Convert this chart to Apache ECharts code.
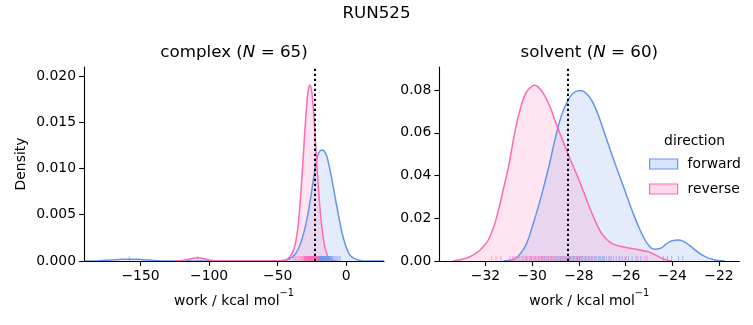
<!DOCTYPE html>
<html>
<head>
<meta charset="utf-8">
<script src="https://cdn.jsdelivr.net/npm/echarts@6/dist/echarts.min.js"></script>
<style>
  html, body { margin: 0; padding: 0; background: #fff; }
  #chart { width: 753px; height: 325px; }
</style>
</head>
<body>
<div id="chart"></div>
<script>
// Work distributions for RUN525: KDE curves (work, density) per phase and direction
const complexForwardDensity = [
  [-191, 0], [-186, 0.00001], [-180, 0.00004], [-174, 0.00009], [-168, 0.00014], [-163, 0.00018],
  [-158, 0.0002], [-153, 0.00018], [-148, 0.00014], [-142, 0.00009], [-137, 0.00004], [-132, 0.00001],
  [-127, 0], [-50, 0], [-46, 0.00005], [-42, 0.0002], [-38, 0.0006], [-35, 0.0013], [-32, 0.0025],
  [-29, 0.0043], [-26, 0.0068], [-24, 0.0088], [-22, 0.0106], [-20, 0.0117], [-17.5, 0.0120],
  [-15, 0.0116], [-13, 0.0106], [-11, 0.0092], [-9, 0.0076], [-7, 0.0060], [-5, 0.0044],
  [-3, 0.0030], [-1, 0.0019], [1, 0.0011], [3, 0.0006], [6, 0.00025], [10, 0.00006], [15, 0], [27.5, 0]
];
const complexReverseDensity = [
  [-125, 0], [-120, 0.00005], [-116, 0.00014], [-112, 0.00028], [-108.4, 0.00036], [-105, 0.00028],
  [-101, 0.00014], [-97, 0.00005], [-92, 0], [-50, 0], [-46, 0.00005], [-43, 0.0002], [-40, 0.0007],
  [-38, 0.0014], [-36, 0.0028], [-34, 0.0056], [-32, 0.0098], [-30, 0.0145], [-28.5, 0.0174],
  [-27.5, 0.0186], [-26.5, 0.0190], [-25.5, 0.0186], [-24.5, 0.0173], [-23.5, 0.0154], [-22, 0.0117],
  [-20.5, 0.0083], [-19, 0.0054], [-17.5, 0.0033], [-16, 0.0018], [-14, 0.0007], [-12, 0.00022],
  [-9, 0.00003], [-6, 0]
];
const solventForwardDensity = [
  [-31.25, 0], [-31.0, 0.0003], [-30.75, 0.0010], [-30.5, 0.0035], [-30.25, 0.0080], [-30.0, 0.0160],
  [-29.75, 0.0250], [-29.5, 0.0350], [-29.25, 0.0460], [-29.0, 0.0580], [-28.75, 0.0680],
  [-28.5, 0.0745], [-28.25, 0.0785], [-28.0, 0.0797], [-27.9, 0.0797], [-27.75, 0.0790],
  [-27.5, 0.0760], [-27.25, 0.0705], [-27.0, 0.0630], [-26.75, 0.0550], [-26.5, 0.0470],
  [-26.25, 0.0395], [-26.0, 0.0320], [-25.75, 0.0245], [-25.5, 0.0175], [-25.25, 0.0115],
  [-25.0, 0.0072], [-24.75, 0.0055], [-24.5, 0.0060], [-24.25, 0.0080], [-24.0, 0.0095],
  [-23.75, 0.0098], [-23.5, 0.0090], [-23.25, 0.0072], [-23.0, 0.0050], [-22.75, 0.0030],
  [-22.5, 0.0016], [-22.25, 0.0007], [-22.0, 0.0002], [-21.75, 0]
];
const solventReverseDensity = [
  [-33.4, 0], [-33.0, 0.0008], [-32.5, 0.0030], [-32.0, 0.0080], [-31.75, 0.0130], [-31.5, 0.0215],
  [-31.25, 0.0330], [-31.0, 0.0450], [-30.75, 0.0600], [-30.5, 0.0715], [-30.25, 0.0790],
  [-30.0, 0.0818], [-29.9, 0.0822], [-29.75, 0.0815], [-29.5, 0.0780], [-29.25, 0.0725],
  [-29.0, 0.0650], [-28.75, 0.0580], [-28.5, 0.0510], [-28.25, 0.0445], [-28.0, 0.0380],
  [-27.75, 0.0310], [-27.5, 0.0240], [-27.25, 0.0175], [-27.0, 0.0125], [-26.75, 0.0095],
  [-26.5, 0.0078], [-26.0, 0.0063], [-25.5, 0.0054], [-25.0, 0.0042], [-24.75, 0.0030],
  [-24.5, 0.0016], [-24.25, 0.0005], [-24.0, 0]
];

// Individual work values (rug marks)
const complexForwardWork = [
  -158.2, -30.5, -28.6, -27.2, -26.0, -25.0, -24.2, -23.5, -22.9, -22.4, -21.9, -21.4, -21.0,
  -20.6, -20.2, -19.9, -19.6, -19.3, -19.0, -18.7, -18.4, -18.1, -17.8, -17.5, -17.2, -16.9,
  -16.6, -16.3, -16.0, -15.7, -15.4, -15.1, -14.8, -14.5, -14.1, -13.7, -13.3, -12.9, -12.5,
  -12.0, -11.5, -11.0, -10.4, -9.8, -9.1, -8.3, -7.4, -6.4, -5.2, -4.4, -20.8, -19.5, -18.2,
  -17.0, -15.9, -14.9, -13.9, -12.7, -23.0, -21.7, -18.9, -16.7, -15.2, -13.0, -10.7
];
const complexReverseWork = [
  -108.4, -38.4, -37.2, -36.0, -34.8, -33.6, -32.8, -32.0, -31.4, -30.8, -30.3, -29.9, -29.5,
  -29.1, -28.8, -28.5, -28.2, -27.9, -27.6, -27.4, -27.2, -27.0, -26.8, -26.6, -26.4, -26.2,
  -26.0, -25.8, -25.6, -25.4, -25.2, -25.0, -24.8, -24.6, -24.4, -24.2, -24.0, -23.8, -23.6,
  -23.4, -23.2, -23.0, -22.8, -22.6, -22.3, -22.0, -21.6, -21.2, -20.6, -19.8, -26.9, -25.9,
  -24.9, -23.9, -27.7, -28.0, -26.5, -25.5, -24.5, -23.5, -29.3, -30.0, -22.5, -21.9, -20.2
];
const solventForwardWork = [
  -30.24, -30.05, -29.88, -29.72, -29.60, -29.48, -29.38, -29.28, -29.18, -29.10, -29.02, -28.94,
  -28.86, -28.79, -28.72, -28.65, -28.58, -28.51, -28.44, -28.37, -28.30, -28.24, -28.18, -28.12,
  -28.06, -28.00, -27.94, -27.88, -27.82, -27.75, -27.68, -27.61, -27.54, -27.47, -27.40, -27.32,
  -27.24, -27.16, -27.08, -27.00, -26.91, -26.82, -26.72, -26.62, -26.52, -26.40, -26.28, -26.15,
  -26.02, -25.88, -25.72, -25.55, -25.35, -24.38, -24.21, -24.03, -23.74, -23.55, -27.97, -28.40
];
const solventReverseWork = [
  -31.74, -31.55, -31.34, -30.84, -30.78, -30.70, -30.62, -30.55, -30.48, -30.41, -30.36, -30.30,
  -30.24, -30.18, -30.12, -30.07, -30.02, -29.96, -29.91, -29.85, -29.80, -29.74, -29.68, -29.62,
  -29.55, -29.49, -29.42, -29.36, -29.30, -29.22, -29.15, -29.07, -29.00, -28.92, -28.85, -28.76,
  -28.68, -28.60, -28.51, -28.42, -28.33, -28.22, -28.10, -27.98, -27.85, -27.72, -27.58, -27.44,
  -27.30, -27.12, -26.95, -26.67, -26.24, -25.98, -25.47, -25.17, -25.08, -29.58, -30.95, -28.05
];

// Free energy estimates drawn as dotted vertical lines: [complex, solvent]
const freeEnergyEstimates = [-22.8, -28.47];

// Axis ranges and tick values
const complexXRange = [-191.2, 27.5];
const complexYRange = [0, 0.02097];
const solventXRange = [-33.98, -21.13];
const solventYRange = [0, 0.0908];
const complexXTicks = [-150, -100, -50, 0];
const complexYTicks = [0, 0.005, 0.01, 0.015, 0.02];
const solventXTicks = [-32, -30, -28, -26, -24, -22];
const solventYTicks = [0, 0.02, 0.04, 0.06, 0.08];

const FONT = 'DejaVu Sans';
const FWD = '#6495ED';
const REV = '#FF69B4';
const FWD_FILL = 'rgba(100,149,237,0.25)';
const REV_FILL = 'rgba(255,105,180,0.25)';

const minus = s => s.replace('-', '\u2212');

function xAxisDef(gridIndex, range, ticks) {
  return {
    gridIndex, type: 'value', min: range[0], max: range[1], z: 10,
    axisLine: { show: true, onZero: false, lineStyle: { color: '#000', width: 1.1 } },
    axisTick: { show: true, length: 4.9, customValues: ticks, lineStyle: { color: '#000', width: 1.1 } },
    axisLabel: { customValues: ticks, margin: 8, color: '#000', fontFamily: FONT, fontSize: 13.9,
                 formatter: v => minus(String(Math.round(v))) },
    splitLine: { show: false }
  };
}
function yAxisDef(gridIndex, range, ticks, digits) {
  return {
    gridIndex, type: 'value', min: range[0], max: range[1], z: 10,
    axisLine: { show: true, onZero: false, lineStyle: { color: '#000', width: 1.1 } },
    axisTick: { show: true, length: 4.9, customValues: ticks, lineStyle: { color: '#000', width: 1.1 } },
    axisLabel: { customValues: ticks, margin: 8, color: '#000', fontFamily: FONT, fontSize: 13.9,
                 formatter: v => v.toFixed(digits) },
    splitLine: { show: false }
  };
}
function kde(name, idx, data, color, fill) {
  return {
    type: 'line', name, xAxisIndex: idx, yAxisIndex: idx, data,
    smooth: 0.5, showSymbol: false, symbol: 'none', silent: true,
    lineStyle: { color, width: 1.5 }, itemStyle: { color },
    areaStyle: { color: fill }, z: 2
  };
}
function rug(name, idx, values, color) {
  return {
    type: 'scatter', name, xAxisIndex: idx, yAxisIndex: idx, silent: true, clip: false,
    data: values.map(v => [v, 0]),
    symbol: 'rect', symbolSize: [1.1, 5], symbolOffset: [0, -2.5],
    itemStyle: { color, opacity: 0.5 }, z: 3
  };
}
function estimateLine(idx, value) {
  return {
    type: 'line', name: 'estimate', xAxisIndex: idx, yAxisIndex: idx, data: [], silent: true, z: 5,
    markLine: {
      silent: true, symbol: 'none', animation: false, label: { show: false },
      lineStyle: { color: '#000', width: 2, type: [2.2, 2.8] },
      data: [{ xAxis: value }]
    }
  };
}

const chart = echarts.init(document.getElementById('chart'), null, { renderer: 'canvas' });
chart.setOption({
  animation: false,
  backgroundColor: '#fff',
  textStyle: { fontFamily: FONT },
  grid: [
    { left: 84, top: 67, width: 300, height: 194 },
    { left: 439.3, top: 67, width: 300, height: 194 }
  ],
  xAxis: [xAxisDef(0, complexXRange, complexXTicks), xAxisDef(1, solventXRange, solventXTicks)],
  yAxis: [yAxisDef(0, complexYRange, complexYTicks, 3), yAxisDef(1, solventYRange, solventYTicks, 2)],
  legend: {
    orient: 'vertical', left: 649, top: 157, padding: 0, itemWidth: 28, itemHeight: 10, itemGap: 11,
    selectedMode: false,
    textStyle: { color: '#000', fontFamily: FONT, fontSize: 13.9, padding: [0, 0, 0, 5] },
    data: [
      { name: 'forward', icon: 'rect', itemStyle: { color: FWD_FILL, borderColor: FWD, borderWidth: 1.2 } },
      { name: 'reverse', icon: 'rect', itemStyle: { color: REV_FILL, borderColor: REV, borderWidth: 1.2 } }
    ]
  },
  graphic: [
    { type: 'text', x: 376.5, y: 13.5, style: { text: 'RUN525', font: '16.7px "DejaVu Sans"', fill: '#000', align: 'center', verticalAlign: 'middle' } },
    { type: 'text', x: 234, y: 53, style: {
        text: '{t|complex (}{n|N}{t| = 65)}', align: 'center', verticalAlign: 'middle',
        rich: { t: { fontFamily: FONT, fontSize: 16.7, fill: '#000' }, n: { fontFamily: FONT, fontSize: 16.7, fontStyle: 'italic', fill: '#000' } } } },
    { type: 'text', x: 589.3, y: 53, style: {
        text: '{t|solvent (}{n|N}{t| = 60)}', align: 'center', verticalAlign: 'middle',
        rich: { t: { fontFamily: FONT, fontSize: 16.7, fill: '#000' }, n: { fontFamily: FONT, fontSize: 16.7, fontStyle: 'italic', fill: '#000' } } } },
    { type: 'text', x: 234, y: 298, style: {
        text: '{a|work / kcal mol}{s|\u22121}', align: 'center', verticalAlign: 'middle',
        rich: { a: { fontFamily: FONT, fontSize: 13.9, fill: '#000', lineHeight: 20, verticalAlign: 'bottom' },
                s: { fontFamily: FONT, fontSize: 9.8, fill: '#000', lineHeight: 20, verticalAlign: 'top' } } } },
    { type: 'text', x: 589.3, y: 298, style: {
        text: '{a|work / kcal mol}{s|\u22121}', align: 'center', verticalAlign: 'middle',
        rich: { a: { fontFamily: FONT, fontSize: 13.9, fill: '#000', lineHeight: 20, verticalAlign: 'bottom' },
                s: { fontFamily: FONT, fontSize: 9.8, fill: '#000', lineHeight: 20, verticalAlign: 'top' } } } },
    { type: 'text', x: 21, y: 164, rotation: Math.PI / 2, style: { text: 'Density', font: '13.9px "DejaVu Sans"', fill: '#000', align: 'center', verticalAlign: 'middle' } },
    { type: 'text', x: 694.5, y: 141, style: { text: 'direction', font: '13.9px "DejaVu Sans"', fill: '#000', align: 'center', verticalAlign: 'middle' } }
  ],
  series: [
    kde('forward', 0, complexForwardDensity, FWD, FWD_FILL),
    kde('reverse', 0, complexReverseDensity, REV, REV_FILL),
    rug('forward', 0, complexForwardWork, FWD),
    rug('reverse', 0, complexReverseWork, REV),
    estimateLine(0, freeEnergyEstimates[0]),
    kde('forward', 1, solventForwardDensity, FWD, FWD_FILL),
    kde('reverse', 1, solventReverseDensity, REV, REV_FILL),
    rug('forward', 1, solventForwardWork, FWD),
    rug('reverse', 1, solventReverseWork, REV),
    estimateLine(1, freeEnergyEstimates[1])
  ]
});
</script>
</body>
</html>
